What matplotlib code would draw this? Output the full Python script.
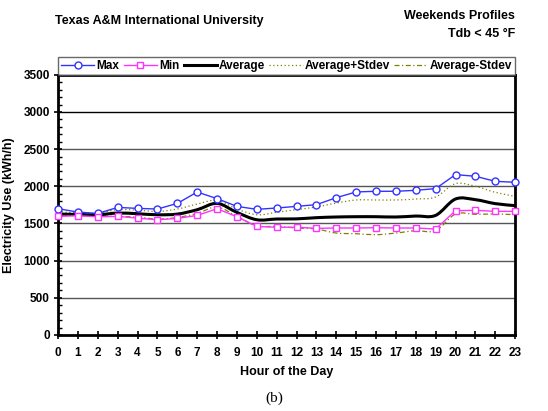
import matplotlib
matplotlib.use('Agg')
import matplotlib.pyplot as plt
from matplotlib.path import Path
from matplotlib.patches import PathPatch
from matplotlib.lines import Line2D
from matplotlib.ticker import MultipleLocator
import numpy as np

plt.rcParams['font.family'] = ['Liberation Sans', 'DejaVu Sans']

hours = list(range(24))

max_use = [1699, 1653, 1635, 1716, 1703, 1694, 1770, 1923, 1834, 1730, 1690, 1708,
           1730, 1753, 1847, 1924, 1933, 1933, 1946, 1969, 2157, 2135, 2067, 2054]
min_use = [1595, 1604, 1590, 1595, 1572, 1550, 1568, 1608, 1699, 1590, 1460, 1449,
           1450, 1434, 1439, 1439, 1443, 1439, 1439, 1425, 1672, 1677, 1663, 1663]
avg_use = [1626, 1622, 1617, 1640, 1631, 1617, 1626, 1685, 1770, 1649, 1550, 1560,
           1562, 1578, 1587, 1591, 1591, 1587, 1600, 1609, 1829, 1820, 1767, 1740]
avg_plus = [1662, 1640, 1640, 1685, 1680, 1662, 1694, 1761, 1811, 1694, 1617, 1650,
            1686, 1722, 1775, 1816, 1816, 1816, 1829, 1856, 2036, 2000, 1919, 1865]
avg_minus = [1604, 1608, 1600, 1595, 1586, 1559, 1581, 1635, 1721, 1595, 1469, 1460,
             1439, 1425, 1371, 1362, 1349, 1371, 1403, 1403, 1627, 1623, 1627, 1618]

blue = '#3333ff'
pink = '#ff33ff'
olive = '#808000'


def smooth_path(x, y):
    # Catmull-Rom style bezier through the points, like a smoothed line in a spreadsheet
    p = np.column_stack([x, y]).astype(float)
    n = len(p)
    verts = [p[0]]
    codes = [Path.MOVETO]
    for i in range(n - 1):
        p0 = p[i - 1] if i > 0 else p[i]
        p3 = p[i + 2] if i + 2 < n else p[i + 1]
        c1 = p[i] + (p[i + 1] - p0) / 6.0
        c2 = p[i + 1] - (p3 - p[i]) / 6.0
        verts += [c1, c2, p[i + 1]]
        codes += [Path.CURVE4] * 3
    return Path(verts, codes)


fig = plt.figure(figsize=(5.48, 4.11), dpi=100)
ax = fig.add_axes([0.106, 0.185, 0.834, 0.633])

ax.set_xlim(0, 23)
ax.set_ylim(0, 3500)

for v in range(500, 3500, 500):
    ax.axhline(v, color='#555555' if v < 3000 else 'black', lw=1.0, zorder=1)

ax.add_patch(PathPatch(smooth_path(hours, avg_plus), fill=False, ec=olive, lw=0.9,
                       ls=(0, (1, 2)), zorder=2))
ax.add_patch(PathPatch(smooth_path(hours, avg_minus), fill=False, ec=olive, lw=0.9,
                       ls=(0, (4, 2, 1, 2)), zorder=2))
ax.add_patch(PathPatch(smooth_path(hours, avg_use), fill=False, ec='black', lw=2.2,
                       zorder=3))
ax.plot(hours, max_use, color=blue, lw=1.0, marker='o', ms=5, mfc='white',
        mec=blue, mew=1.0, clip_on=False, zorder=4)
ax.plot(hours, min_use, color=pink, lw=1.0, marker='s', ms=5, mfc='white',
        mec=pink, mew=1.0, clip_on=False, zorder=4)

for s in ax.spines.values():
    s.set_linewidth(2)
ax.set_xticks(hours)
ax.yaxis.set_major_locator(MultipleLocator(500))
ax.yaxis.set_minor_locator(MultipleLocator(100))
ax.tick_params(axis='x', direction='inout', length=6, width=1.2, labelsize=8.5, pad=6)
ax.tick_params(axis='y', which='major', direction='inout', length=6, width=1.2,
               labelsize=8.5, pad=3)
ax.tick_params(axis='y', which='minor', direction='in', length=3, width=1.0)
for lab in ax.get_xticklabels() + ax.get_yticklabels():
    lab.set_fontweight('bold')

ax.set_xlabel('Hour of the Day', fontsize=9, fontweight='bold', labelpad=5)
ax.set_ylabel('Electricity Use (kWh/h)', fontsize=9, fontweight='bold', labelpad=6)

handles = [
    Line2D([], [], color=blue, lw=1.0, marker='o', ms=5, mfc='white', mec=blue),
    Line2D([], [], color=pink, lw=1.0, marker='s', ms=5, mfc='white', mec=pink),
    Line2D([], [], color='black', lw=2.2),
    Line2D([], [], color=olive, lw=0.9, ls=(0, (1, 2))),
    Line2D([], [], color=olive, lw=0.9, ls=(0, (4, 2, 1, 2))),
]
labels = ['Max', 'Min', 'Average', 'Average+Stdev', 'Average-Stdev']
leg = ax.legend(handles, labels, ncol=5, loc='lower left', bbox_to_anchor=(0, 1.0, 1, 0.08),
                mode='expand', fontsize=8.5, frameon=True, fancybox=False,
                edgecolor='#444444', borderpad=0.25, handlelength=2.8,
                handletextpad=0.2, columnspacing=0.8, borderaxespad=0.0)
leg.get_frame().set_linewidth(1.0)
for t in leg.get_texts():
    t.set_fontweight('bold')

fig.text(0.1, 0.948, 'Texas A&M International University', fontsize=9,
         fontweight='bold', ha='left', va='center')
fig.text(0.94, 0.962, 'Weekends Profiles', fontsize=9, fontweight='bold',
         ha='right', va='center')
fig.text(0.94, 0.918, 'Tdb < 45 °F', fontsize=9, fontweight='bold',
         ha='right', va='center')
fig.text(0.5, 0.03, '(b)', fontsize=11, family=['Liberation Serif', 'DejaVu Serif'],
         ha='center', va='center')

fig.savefig('out.png', dpi=100)
